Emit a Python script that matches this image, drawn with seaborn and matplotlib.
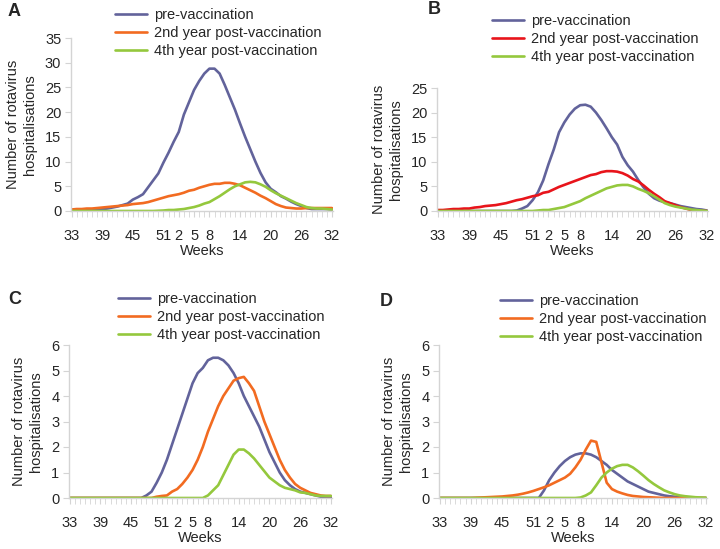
import matplotlib
matplotlib.use("Agg")
import matplotlib.pyplot as plt
from matplotlib.ticker import FixedLocator, MultipleLocator
import seaborn as sns
import numpy as np
import pandas as pd

# weeks 33..52 then 1..32 (52 weekly points)
weeks = list(range(33, 53)) + list(range(1, 33))
tick_weeks = [33, 39, 45, 51, 2, 5, 8, 14, 20, 26, 32]
series_names = ["pre-vaccination", "2nd year post-vaccination", "4th year post-vaccination"]

# panel A
a_pre = [0.2, 0.2, 0.2, 0.3, 0.3, 0.3, 0.4, 0.5, 0.7, 0.9, 1.2, 1.5, 2.3, 2.8, 3.4, 4.8,
         6.2, 7.6, 9.8, 11.8, 14.0, 16.0, 19.5, 22.0, 24.5, 26.3, 27.8, 28.8, 28.8, 27.8,
         25.5, 23.0, 20.5, 17.7, 15.0, 12.5, 10.0, 7.7, 5.8, 4.5, 3.8, 3.0, 2.5, 1.9, 1.4,
         1.0, 0.6, 0.4, 0.4, 0.4, 0.4, 0.3]
a_2nd = [0.3, 0.4, 0.4, 0.5, 0.5, 0.6, 0.7, 0.8, 0.9, 1.0, 1.1, 1.2, 1.4, 1.5, 1.6, 1.8,
         2.1, 2.4, 2.7, 3.0, 3.2, 3.4, 3.7, 4.1, 4.3, 4.7, 5.0, 5.3, 5.5, 5.5, 5.7, 5.7,
         5.5, 5.2, 4.7, 4.2, 3.7, 3.1, 2.6, 2.0, 1.4, 1.0, 0.7, 0.6, 0.5, 0.5, 0.6, 0.6,
         0.6, 0.6, 0.6, 0.6]
a_4th = [0.0, 0.0, 0.0, 0.0, 0.0, 0.0, 0.0, 0.0, 0.0, 0.0, 0.0, 0.0, 0.0, 0.0, 0.0, 0.0,
         0.0, 0.05, 0.1, 0.2, 0.2, 0.3, 0.4, 0.6, 0.8, 1.1, 1.5, 1.8, 2.4, 3.0, 3.7, 4.4,
         5.0, 5.4, 5.8, 5.9, 5.8, 5.4, 4.9, 4.2, 3.6, 3.1, 2.6, 2.1, 1.6, 1.2, 0.8, 0.6,
         0.5, 0.5, 0.4, 0.3]

# panel B
b_pre = [0, 0, 0, 0, 0, 0, 0, 0, 0, 0, 0, 0, 0, 0, 0, 0.1, 0.5, 1.0, 2.2, 3.8, 6.2, 9.5,
         12.5, 16.0, 18.0, 19.6, 20.8, 21.5, 21.6, 21.2, 20.0, 18.5, 16.8, 15.0, 13.5, 11.0,
         9.3, 8.0, 6.3, 4.8, 3.5, 2.6, 2.1, 1.8, 1.6, 1.3, 1.0, 0.8, 0.6, 0.4, 0.3, 0.1]
b_2nd = [0.2, 0.2, 0.3, 0.4, 0.4, 0.5, 0.5, 0.7, 0.8, 1.0, 1.1, 1.2, 1.4, 1.6, 1.9, 2.2,
         2.4, 2.7, 3.0, 3.2, 3.7, 3.9, 4.4, 4.9, 5.3, 5.7, 6.1, 6.5, 6.9, 7.3, 7.5, 7.9,
         8.1, 8.1, 8.0, 7.7, 7.2, 6.5, 6.0, 5.2, 4.3, 3.5, 2.8, 2.0, 1.6, 1.2, 0.8, 0.5,
         0.2, 0.0, 0.0, 0.0]
b_4th = [0, 0, 0, 0, 0, 0, 0, 0, 0, 0, 0, 0, 0, 0, 0, 0, 0, 0, 0.0, 0.1, 0.2, 0.2, 0.4,
         0.6, 0.8, 1.2, 1.6, 2.0, 2.6, 3.1, 3.6, 4.1, 4.6, 4.9, 5.2, 5.3, 5.3, 5.0, 4.5,
         4.1, 3.6, 3.0, 2.3, 1.6, 1.2, 0.9, 0.7, 0.5, 0.3, 0.2, 0.1, 0.0]

# panel C
c_pre = [0, 0, 0, 0, 0, 0, 0, 0, 0, 0, 0, 0, 0, 0, 0.0, 0.1, 0.25, 0.6, 1.0, 1.5, 2.1,
         2.7, 3.3, 3.9, 4.5, 4.9, 5.1, 5.4, 5.5, 5.5, 5.4, 5.2, 4.9, 4.5, 4.0, 3.6, 3.2,
         2.8, 2.3, 1.8, 1.4, 1.0, 0.7, 0.5, 0.35, 0.25, 0.2, 0.15, 0.1, 0.05, 0.0, 0.0]
c_2nd = [0, 0, 0, 0, 0, 0, 0, 0, 0, 0, 0, 0, 0, 0, 0, 0, 0, 0.05, 0.08, 0.1, 0.25, 0.35,
         0.55, 0.8, 1.1, 1.5, 2.0, 2.6, 3.1, 3.6, 4.0, 4.3, 4.6, 4.7, 4.75, 4.5, 4.2, 3.6,
         3.0, 2.5, 2.0, 1.5, 1.1, 0.8, 0.55, 0.4, 0.3, 0.2, 0.15, 0.1, 0.08, 0.08]
c_4th = [0, 0, 0, 0, 0, 0, 0, 0, 0, 0, 0, 0, 0, 0, 0, 0, 0, 0, 0, 0, 0, 0, 0, 0, 0, 0,
         0.0, 0.1, 0.3, 0.5, 0.9, 1.3, 1.7, 1.9, 1.9, 1.75, 1.55, 1.3, 1.05, 0.8, 0.65,
         0.5, 0.4, 0.35, 0.3, 0.22, 0.2, 0.15, 0.1, 0.08, 0.08, 0.08]

# panel D
d_pre = [0, 0, 0, 0, 0, 0, 0, 0, 0, 0, 0, 0, 0, 0, 0, 0, 0, 0, 0, 0.0, 0.3, 0.7, 1.0,
         1.25, 1.45, 1.6, 1.7, 1.75, 1.75, 1.7, 1.6, 1.45, 1.3, 1.1, 0.95, 0.8, 0.65, 0.55,
         0.45, 0.35, 0.25, 0.2, 0.15, 0.1, 0.07, 0.05, 0.03, 0.02, 0, 0, 0, 0]
d_2nd = [0, 0, 0, 0, 0, 0, 0, 0.01, 0.02, 0.03, 0.04, 0.05, 0.06, 0.08, 0.1, 0.13, 0.17,
         0.22, 0.28, 0.35, 0.42, 0.5, 0.6, 0.7, 0.8, 0.95, 1.2, 1.5, 1.9, 2.25, 2.2, 1.4,
         0.6, 0.35, 0.25, 0.18, 0.12, 0.08, 0.06, 0.04, 0.03, 0.02, 0.01, 0, 0, 0, 0, 0,
         0, 0, 0, 0]
d_4th = [0, 0, 0, 0, 0, 0, 0, 0, 0, 0, 0, 0, 0, 0, 0, 0, 0, 0, 0, 0, 0, 0, 0, 0, 0, 0,
         0.0, 0.02, 0.1, 0.22, 0.5, 0.8, 1.0, 1.15, 1.25, 1.3, 1.3, 1.2, 1.05, 0.88, 0.7,
         0.55, 0.42, 0.3, 0.22, 0.15, 0.1, 0.07, 0.05, 0.03, 0.02, 0.01]

PURPLE = "#62639b"
ORANGE = "#f26b21"
RED = "#e8141b"
GREEN = "#94c83d"
AXIS_GREY = "#d4d4d4"

sns.set_style("white")
plt.rcParams["font.family"] = ["Liberation Sans", "DejaVu Sans"]

fig = plt.figure(figsize=(7.2, 5.49), dpi=100)
W, H = 720, 549

panels = [
    # letter, data, colours, axes box (px: left, top, right, bottom), ymax, ystep, legend anchor px, letter pos px
    ("A", [a_pre, a_2nd, a_4th], [PURPLE, ORANGE, GREEN], (71, 38, 333, 211), 35, 5, (115, 33), (8, 12)),
    ("B", [b_pre, b_2nd, b_4th], [PURPLE, RED, GREEN], (437, 88, 708, 211), 25, 5, (492, 39), (428, 10)),
    ("C", [c_pre, c_2nd, c_4th], [PURPLE, ORANGE, GREEN], (69, 345, 332, 498), 6, 1, (118, 317), (8, 300)),
    ("D", [d_pre, d_2nd, d_4th], [PURPLE, ORANGE, GREEN], (439, 345, 707, 498), 6, 1, (500, 319), (380, 302)),
]

idx = np.arange(len(weeks))
tick_pos = [weeks.index(w) for w in tick_weeks]

for letter, data, colors, box, ymax, ystep, leg_xy, let_xy in panels:
    l, t, r, b = box
    ax = fig.add_axes([l / W, 1 - b / H, (r - l) / W, (b - t) / H])
    df = pd.DataFrame({
        "idx": np.tile(idx, 3),
        "value": np.concatenate(data),
        "series": np.repeat(series_names, len(weeks)),
    })
    sns.lineplot(data=df, x="idx", y="value", hue="series", hue_order=series_names,
                 palette=dict(zip(series_names, colors)), linewidth=1.9, legend=False, ax=ax)

    ax.set_xlim(-0.1, 51.2)
    ax.set_ylim(0, ymax)
    ax.set_yticks(np.arange(0, ymax + ystep / 2, ystep))
    ax.xaxis.set_major_locator(FixedLocator(tick_pos))
    ax.set_xticklabels([str(w) for w in tick_weeks])
    ax.xaxis.set_minor_locator(MultipleLocator(1))

    for s in ["top", "right"]:
        ax.spines[s].set_visible(False)
    for s in ["left", "bottom"]:
        ax.spines[s].set_color(AXIS_GREY)
        ax.spines[s].set_linewidth(1.0)

    ax.tick_params(axis="x", which="both", direction="out", length=4, color=AXIS_GREY,
                   bottom=True, labelsize=10.5, pad=9)
    ax.tick_params(axis="y", direction="out", length=4, color=AXIS_GREY, left=True,
                   labelsize=10.5, pad=3)
    ax.set_xlabel("Weeks", fontsize=10.5, labelpad=1)
    ax.set_ylabel("Number of rotavirus\nhospitalisations", fontsize=10.5, labelpad=6)

    leg = ax.legend(handles=ax.lines[:3], labels=series_names, loc="center left",
                    bbox_to_anchor=(leg_xy[0] / W, 1 - leg_xy[1] / H),
                    bbox_transform=fig.transFigure, frameon=False, fontsize=10.5,
                    handlelength=2.2, handletextpad=0.5, labelspacing=0.3,
                    borderpad=0, borderaxespad=0)

    fig.text(let_xy[0] / W, 1 - let_xy[1] / H, letter, fontsize=13, fontweight="bold",
             ha="left", va="center")

fig.savefig("out.png", dpi=100)
